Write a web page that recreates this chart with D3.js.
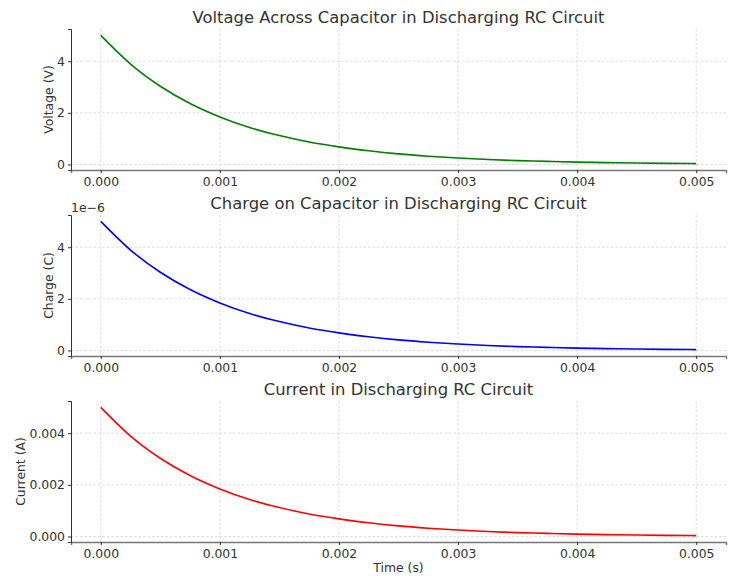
<!DOCTYPE html>
<html>
<head>
<meta charset="utf-8">
<script src="https://cdn.jsdelivr.net/npm/d3@7"></script>
<style>
  html, body { margin: 0; padding: 0; background: #fff; }
  svg { display: block; font-family: "DejaVu Sans", sans-serif; }
</style>
</head>
<body>
<svg id="chart" width="734" height="576"></svg>
<script>
// Time samples (s)
const time = [0, 0.00025, 0.0005, 0.00075, 0.001, 0.00125, 0.0015, 0.00175, 0.002, 0.00225, 0.0025,
  0.00275, 0.003, 0.00325, 0.0035, 0.00375, 0.004, 0.00425, 0.0045, 0.00475, 0.005];
// Voltage across capacitor (V)
const voltage = [5.00, 3.89, 3.03, 2.36, 1.84, 1.43, 1.12, 0.87, 0.68, 0.53, 0.41,
  0.32, 0.25, 0.19, 0.15, 0.12, 0.092, 0.071, 0.056, 0.043, 0.034];
// Charge on capacitor (C)
const charge = [5.00e-6, 3.89e-6, 3.03e-6, 2.36e-6, 1.84e-6, 1.43e-6, 1.12e-6, 0.87e-6, 0.68e-6, 0.53e-6, 0.41e-6,
  0.32e-6, 0.25e-6, 0.19e-6, 0.15e-6, 0.12e-6, 0.092e-6, 0.071e-6, 0.056e-6, 0.043e-6, 0.034e-6];
// Current (A)
const current = [0.00500, 0.00389, 0.00303, 0.00236, 0.00184, 0.00143, 0.00112, 0.00087, 0.00068, 0.00053, 0.00041,
  0.00032, 0.00025, 0.00019, 0.00015, 0.00012, 0.000092, 0.000071, 0.000056, 0.000043, 0.000034];

const xTicks = [0, 0.001, 0.002, 0.003, 0.004, 0.005];
const voltageTicks = [0, 2, 4];
const chargeTicks = [0, 2e-6, 4e-6];
const currentTicks = [0, 0.002, 0.004];

const titles = ["Voltage Across Capacitor in Discharging RC Circuit",
  "Charge on Capacitor in Discharging RC Circuit",
  "Current in Discharging RC Circuit"];
const yLabels = ["Voltage (V)", "Charge (C)", "Current (A)"];

const panels = [
  { title: titles[0], ylabel: yLabels[0], values: voltage, ticks: voltageTicks, color: "#008000",
    fmt: d => d3.format("d")(d), top: 29, labelX: 49 },
  { title: titles[1], ylabel: yLabels[1], values: charge, ticks: chargeTicks, color: "#0000ff",
    fmt: d => d3.format("d")(Math.round(d / 1e-6)), top: 215, labelX: 49, offset: "1e\u22126" },
  { title: titles[2], ylabel: yLabels[2], values: current, ticks: currentTicks, color: "#ff0000",
    fmt: d => d3.format(".3f")(d), top: 401, labelX: 21, xlabel: "Time (s)" }
];

const svg = d3.select("#chart");
const left = 71, right = 726, h = 141;
const textColor = "#333";

const xExt = d3.extent(time);
const xPad = (xExt[1] - xExt[0]) * 0.05;

panels.forEach(p => {
  const g = svg.append("g");
  const top = p.top, bottom = top + h;
  const x = d3.scaleLinear().domain([xExt[0] - xPad, xExt[1] + xPad]).range([left, right]);
  const yExt = d3.extent(p.values);
  const yPad = (yExt[1] - yExt[0]) * 0.05;
  const y = d3.scaleLinear().domain([yExt[0] - yPad, yExt[1] + yPad]).range([bottom, top]);

  // grid
  const grid = g.append("g").attr("stroke", "#d4d4d4").attr("stroke-width", 0.8).attr("stroke-dasharray", "2.5,2");
  xTicks.forEach(t => grid.append("line").attr("x1", x(t)).attr("x2", x(t)).attr("y1", top).attr("y2", bottom));
  p.ticks.forEach(t => grid.append("line").attr("x1", left).attr("x2", right).attr("y1", y(t)).attr("y2", y(t)));

  // line
  const line = d3.line().x((d, i) => x(time[i])).y(d => y(d)).curve(d3.curveMonotoneX);
  g.append("path").datum(p.values).attr("d", line)
    .attr("fill", "none").attr("stroke", p.color).attr("stroke-width", 1.6);

  // axes
  const xAxis = d3.axisBottom(x).tickValues(xTicks).tickFormat(d3.format(".3f")).tickSize(3).tickPadding(4);
  const gx = g.append("g").attr("transform", `translate(0,${bottom})`).call(xAxis);
  gx.select(".domain").attr("stroke", "#777").attr("stroke-width", 1.5);
  gx.selectAll(".tick line").attr("stroke", "#333");
  gx.selectAll("text").attr("fill", textColor).style("font-size", "12.4px").style("font-family", "DejaVu Sans");

  const yAxis = d3.axisLeft(y).tickValues(p.ticks).tickFormat(p.fmt).tickSize(3).tickPadding(3);
  const gy = g.append("g").attr("transform", `translate(${left},0)`).call(yAxis);
  gy.select(".domain").attr("stroke", "#333").attr("stroke-width", 1);
  gy.selectAll(".tick line").attr("stroke", "#333");
  gy.selectAll("text").attr("fill", textColor).style("font-size", "12.4px").style("font-family", "DejaVu Sans");

  // title
  g.append("text").attr("x", (left + right) / 2).attr("y", top - 6).attr("text-anchor", "middle")
    .attr("fill", textColor).style("font-size", "16.4px").text(p.title);

  // y label
  g.append("text").attr("transform", `translate(${p.labelX},${(top + bottom) / 2}) rotate(-90)`)
    .attr("text-anchor", "middle").attr("dy", "0.35em")
    .attr("fill", textColor).style("font-size", "12.4px").text(p.ylabel);

  if (p.offset) {
    g.append("text").attr("x", left).attr("y", top - 3).attr("fill", textColor)
      .style("font-size", "12.4px").text(p.offset);
  }
  if (p.xlabel) {
    g.append("text").attr("x", (left + right) / 2).attr("y", bottom + 30).attr("text-anchor", "middle")
      .attr("fill", textColor).style("font-size", "12.4px").text(p.xlabel);
  }
});
</script>
</body>
</html>
